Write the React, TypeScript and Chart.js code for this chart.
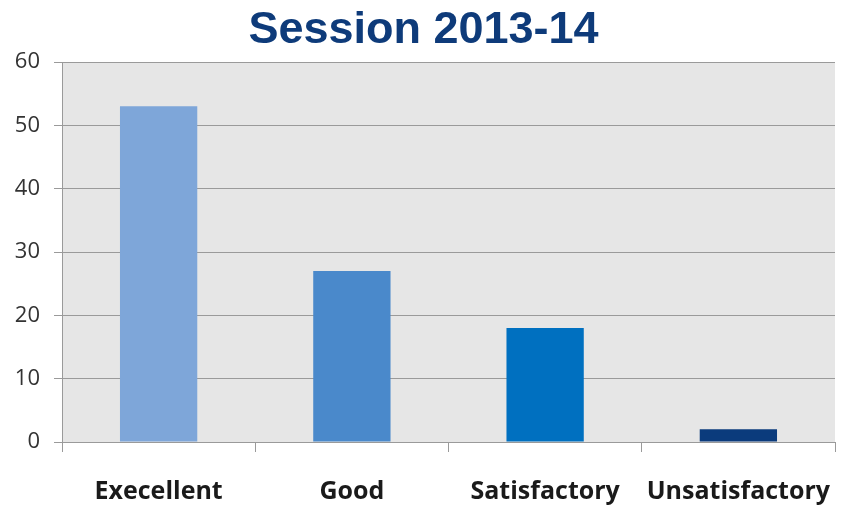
import React, { useEffect, useRef } from "react";
import { Chart, registerables } from "chart.js";

Chart.register(...registerables);

const titleText = "Session 2013-14";
const categories = ["Execellent", "Good", "Satisfactory", "Unsatisfactory"];
const values = [53, 27, 18, 2];
const barColors = ["#7EA6D9", "#4A89CB", "#0070C0", "#0B3B7C"];
const yMin = 0;
const yMax = 60;
const yStep = 10;

const plotBg = {
  id: "plotBg",
  beforeDraw(chart: any) {
    const { ctx, chartArea } = chart;
    if (!chartArea) return;
    ctx.save();
    ctx.fillStyle = "#E6E6E6";
    ctx.fillRect(chartArea.left, chartArea.top, chartArea.right - chartArea.left, chartArea.bottom - chartArea.top);
    ctx.restore();
  },
};

export default function App() {
  const ref = useRef<HTMLCanvasElement | null>(null);
  useEffect(() => {
    document.body.style.margin = "0";
    if (!ref.current) return;
    const chart = new Chart(ref.current, {
      type: "bar",
      data: {
        labels: categories,
        datasets: [
          {
            data: values,
            backgroundColor: barColors,
            barPercentage: 0.4,
            categoryPercentage: 1,
          },
        ],
      },
      plugins: [plotBg],
      options: {
        animation: false,
        responsive: false,
        maintainAspectRatio: false,
        layout: { padding: { left: 12, right: 14, top: 0, bottom: 0 } },
        plugins: {
          legend: { display: false },
          tooltip: { enabled: false },
          title: {
            display: true,
            text: titleText,
            color: "#0E3B7A",
            font: { family: "'Liberation Sans', Arial, sans-serif", size: 45, weight: "bold" },
            padding: { top: 4, bottom: 4 },
          },
        },
        scales: {
          x: {
            offset: true,
            grid: {
              offset: true,
              drawOnChartArea: false,
              drawTicks: true,
              tickLength: 10,
              color: "#9A9A9A",
            },
            border: { display: true, color: "#9A9A9A" },
            ticks: {
              color: "#1A1A1A",
              padding: 25,
              font: { family: "'Open Sans', Lato, sans-serif", size: 25, weight: "bold" },
              maxRotation: 0,
              autoSkip: false,
            },
            afterFit(scale: any) {
              scale.height = 68;
              scale.paddingLeft = 0;
              scale.paddingRight = 0;
            },
          },
          y: {
            min: yMin,
            max: yMax,
            ticks: {
              stepSize: yStep,
              color: "#333333",
              padding: 14,
              font: { family: "'Open Sans', Lato, sans-serif", size: 22 },
            },
            grid: {
              color: "#9A9A9A",
              tickLength: 8,
            },
            border: { display: true, color: "#9A9A9A" },
            afterFit(scale: any) {
              scale.width = 50;
            },
          },
        },
      },
    });
    return () => chart.destroy();
  }, []);
  return (
    <div style={{ position: "absolute", left: 0, top: 0, width: 849, height: 510 }}>
      <canvas ref={ref} width={849} height={510} style={{ width: 849, height: 510, display: "block" }} />
    </div>
  );
}
